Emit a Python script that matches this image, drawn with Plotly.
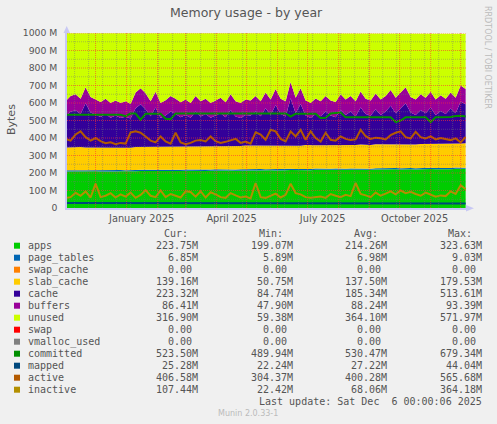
import plotly.graph_objects as go
import pandas as pd

# ---------------- data (5-day samples) ----------------
dates = pd.date_range("2024-11-01", periods=81, freq="5D")

apps = [208, 209, 208, 209, 208, 209, 210, 209, 208, 210,
        209, 210, 209, 208, 210, 211, 210, 211, 212, 211,
        212, 211, 213, 212, 213, 212, 214, 213, 212, 213,
        214, 213, 215, 214, 213, 215, 216, 215, 214, 216,
        215, 216, 215, 214, 216, 217, 216, 215, 217, 216,
        218, 217, 216, 218, 219, 217, 218, 219, 218, 220,
        219, 218, 220, 221, 219, 220, 221, 220, 222, 221,
        220, 222, 221, 223, 222, 221, 223, 222, 224, 223,
        223.75]

page_tables = [7.0, 7.1, 6.9, 7.0, 7.2, 7.0, 6.9, 7.1, 7.0, 7.0,
               6.9, 7.0, 7.1, 7.0, 6.8, 7.0, 7.1, 7.0, 6.9, 7.0,
               7.1, 7.0, 7.0, 6.9, 7.0, 7.2, 7.0, 6.9, 7.0, 7.1,
               7.0, 6.9, 7.0, 7.1, 7.0, 7.0, 6.9, 7.0, 7.1, 7.0,
               7.0, 7.1, 6.9, 7.0, 7.0, 7.1, 7.0, 6.9, 7.0, 7.0,
               7.1, 7.0, 6.9, 7.0, 7.1, 7.0, 7.0, 6.9, 7.0, 7.1,
               7.0, 6.9, 7.0, 7.0, 7.1, 7.0, 6.9, 7.0, 7.0, 6.9,
               7.0, 7.0, 6.9, 7.0, 6.9, 7.0, 6.9, 6.9, 7.0, 6.9,
               6.85]

slab_cache = [130, 131, 130, 132, 131, 130, 131, 132, 131, 130,
              131, 132, 131, 130, 132, 131, 132, 133, 132, 131,
              132, 133, 132, 133, 132, 134, 133, 132, 133, 134,
              133, 134, 133, 132, 134, 133, 134, 135, 134, 133,
              134, 135, 134, 133, 135, 134, 135, 134, 136, 135,
              134, 135, 136, 135, 134, 136, 135, 136, 135, 136,
              136, 135, 137, 136, 135, 137, 136, 137, 136, 137,
              136, 137, 138, 137, 136, 138, 137, 138, 137, 138,
              139.16]

cache = [179, 203, 213, 189, 253, 200, 185, 172, 191, 169,
         181, 166, 175, 166, 221, 244, 215, 173, 224, 166,
         177, 200, 185, 167, 180, 162, 197, 171, 185, 161,
         174, 188, 164, 207, 169, 160, 175, 171, 196, 168,
         214, 174, 233, 183, 165, 269, 183, 238, 168, 157,
         178, 165, 192, 168, 159, 200, 172, 189, 164, 211,
         175, 168, 201, 168, 190, 220, 178, 206, 233, 181,
         169, 194, 175, 207, 167, 189, 170, 202, 173, 240,
         223.32]

buffers = [86, 90, 92, 88, 91, 89, 87, 85, 88, 84,
           87, 85, 88, 84, 90, 92, 91, 86, 90, 85,
           87, 89, 88, 86, 88, 85, 89, 87, 88, 85,
           87, 88, 86, 90, 87, 85, 88, 87, 89, 86,
           90, 88, 91, 88, 87, 93, 89, 91, 87, 85,
           88, 86, 89, 87, 86, 90, 88, 89, 86, 91,
           88, 87, 90, 88, 89, 91, 88, 90, 92, 89,
           88, 90, 89, 91, 88, 90, 88, 91, 89, 92,
           86.41]

unused = [388, 358, 348, 373, 308, 363, 378, 393, 373, 398,
          383, 398, 388, 403, 338, 313, 343, 388, 333, 398,
          383, 358, 373, 393, 378, 398, 358, 388, 373, 398,
          383, 368, 393, 348, 388, 398, 378, 383, 358, 388,
          338, 378, 318, 373, 388, 278, 368, 313, 383, 398,
          373, 388, 358, 383, 393, 348, 378, 358, 388, 333,
          373, 383, 343, 378, 358, 323, 368, 338, 308, 363,
          378, 348, 368, 333, 378, 353, 373, 338, 368, 298,
          316.9]

committed = [533, 533, 532, 533, 534, 533, 533, 532, 533, 533,
             533, 533, 525, 540, 540, 505, 538, 539, 539, 539,
             510, 508, 540, 540, 539, 540, 540, 541, 540, 540,
             539, 540, 540, 541, 540, 540, 539, 540, 540, 540,
             541, 540, 540, 539, 540, 523, 538, 538, 538, 538,
             538, 514, 515, 540, 545, 546, 518, 518, 518, 518,
             518, 518, 518, 518, 518, 518, 491, 500, 518, 518,
             518, 518, 518, 491, 518, 518, 518, 520, 526, 527,
             523.5]

mapped = [28, 28, 27, 28, 29, 28, 27, 28, 28, 27,
          28, 26, 27, 28, 27, 28, 28, 27, 28, 26,
          27, 28, 27, 28, 28, 27, 28, 27, 28, 27,
          28, 27, 28, 27, 28, 27, 28, 28, 27, 28,
          27, 28, 29, 28, 27, 28, 27, 28, 27, 28,
          28, 27, 28, 27, 26, 27, 28, 27, 28, 27,
          27, 28, 27, 28, 27, 26, 27, 28, 27, 26,
          27, 26, 27, 26, 27, 26, 26, 27, 26, 26,
          25.28]

active = [395, 385, 420, 438, 405, 385, 400, 382, 370, 375,
          365, 372, 368, 432, 438, 430, 409, 385, 375, 409,
          380, 368, 430, 375, 365, 372, 385, 388, 380, 409,
          382, 372, 378, 385, 395, 372, 380, 368, 432, 420,
          390, 447, 438, 395, 380, 438, 409, 447, 390, 438,
          400, 380, 430, 390, 385, 409, 395, 388, 392, 447,
          410, 395, 402, 398, 392, 416, 430, 438, 405, 398,
          435, 405, 398, 409, 392, 400, 395, 388, 398, 375,
          406.58]

inactive = [58, 62, 87, 70, 95, 60, 139, 62, 70, 85,
            60, 78, 65, 88, 58, 75, 102, 70, 62, 100,
            62, 80, 70, 60, 96, 92, 65, 96, 60, 90,
            78, 62, 58, 85, 72, 60, 66, 55, 143, 62,
            58, 70, 82, 60, 75, 139, 85, 78, 62, 58,
            60, 65, 58, 80, 70, 62, 75, 68, 143, 80,
            72, 62, 88, 70, 82, 95, 78, 100, 85, 92,
            80, 70, 88, 75, 65, 72, 68, 95, 80, 130,
            107.44]

# axis ticks
x_tick_dates = ["2025-01-16", "2025-04-16", "2025-07-16", "2025-10-16"]
x_tick_labels = ["January 2025", "April 2025", "July 2025", "October 2025"]
y_tick_vals = [0, 100, 200, 300, 400, 500, 600, 700, 800, 900, 1000]
y_tick_labels = ["0", "100 M", "200 M", "300 M", "400 M", "500 M", "600 M",
                 "700 M", "800 M", "900 M", "1000 M"]

# legend table
legend_names = ["apps", "page_tables", "swap_cache", "slab_cache", "cache", "buffers",
                "unused", "swap", "vmalloc_used", "committed", "mapped", "active", "inactive"]
legend_colors = ["#00CC00", "#0066B3", "#FF8000", "#FFCC00", "#330099", "#990099",
                 "#CCFF00", "#FF0000", "#808080", "#008F00", "#00487D", "#B35A00", "#B38F00"]
cur_vals = ["223.75M", "6.85M", "0.00", "139.16M", "223.32M", "86.41M", "316.90M",
            "0.00", "0.00", "523.50M", "25.28M", "406.58M", "107.44M"]
min_vals = ["199.07M", "5.89M", "0.00", "50.75M", "84.74M", "47.90M", "59.38M",
            "0.00", "0.00", "489.94M", "22.24M", "304.37M", "22.42M"]
avg_vals = ["214.26M", "6.98M", "0.00", "137.50M", "185.34M", "88.24M", "364.10M",
            "0.00", "0.00", "530.47M", "27.22M", "400.28M", "68.06M"]
max_vals = ["323.63M", "9.03M", "0.00", "179.53M", "513.61M", "93.39M", "571.97M",
            "0.00", "0.00", "679.34M", "44.04M", "565.68M", "364.18M"]

# ---------------- geometry helpers ----------------
W, H = 497, 424
L, R, T, B = 67, 31, 33, 216
PW = W - L - R
PH = H - T - B


def px(x):
    return (x - L) / PW


def py(y):
    return (H - B - y) / PH


SANS = "DejaVu Sans"
MONO = "DejaVu Sans Mono"
TXT = "#555555"

fig = go.Figure()

stack = [("apps", apps, "#00CC00"), ("page_tables", page_tables, "#0066B3"),
         ("slab_cache", slab_cache, "#FFCC00"), ("cache", cache, "#330099"),
         ("buffers", buffers, "#990099"), ("unused", unused, "#CCFF00")]
for name, vals, col in stack:
    fig.add_trace(go.Scatter(x=dates, y=vals, name=name, stackgroup="mem", mode="lines",
                             line=dict(width=0, color=col), fillcolor=col,
                             hoverinfo="skip"))

lines = [("committed", committed, "#008F00"), ("mapped", mapped, "#00487D"),
         ("active", active, "#B35A00"), ("inactive", inactive, "#B38F00")]
for name, vals, col in lines:
    fig.add_trace(go.Scatter(x=dates, y=vals, name=name, mode="lines",
                             line=dict(width=2, color=col), hoverinfo="skip"))

shapes = []
minor_c = "rgba(120,120,120,0.45)"
major_c = "rgba(255,50,50,0.6)"
for d in pd.date_range("2024-11-10", "2025-12-06", freq="14D"):
    shapes.append(dict(type="line", xref="x", yref="paper", x0=d, x1=d, y0=0, y1=1,
                       line=dict(color=minor_c, width=1, dash="1px,1px"), layer="above"))
for v in range(50, 1000, 100):
    shapes.append(dict(type="line", xref="paper", yref="y", x0=0, x1=1, y0=v, y1=v,
                       line=dict(color=minor_c, width=1, dash="1px,1px"), layer="above"))
for d in pd.date_range("2024-12-01", "2025-12-01", freq="MS"):
    shapes.append(dict(type="line", xref="x", yref="paper", x0=d, x1=d, y0=0, y1=1,
                       line=dict(color=major_c, width=1, dash="1px,1px"), layer="above"))
for v in y_tick_vals[1:]:
    shapes.append(dict(type="line", xref="paper", yref="y", x0=0, x1=1, y0=v, y1=v,
                       line=dict(color=major_c, width=1, dash="1px,1px"), layer="above"))

# axis arrows
arrow_c = "#C8C8F4"
shapes.append(dict(type="path", xref="paper", yref="paper", layer="above",
                   path=f"M {px(63.5)} {py(33)} L {px(66.7)} {py(26)} L {px(70)} {py(33)} Z",
                   fillcolor=arrow_c, line=dict(width=0)))
shapes.append(dict(type="path", xref="paper", yref="paper", layer="above",
                   path=f"M {px(466)} {py(205)} L {px(474)} {py(208.3)} L {px(466)} {py(211.5)} Z",
                   fillcolor=arrow_c, line=dict(width=0)))

annotations = []


def note(text, x, y, size=10, family=MONO, color=TXT, xanchor="left", angle=0):
    annotations.append(dict(text=text, x=px(x), y=py(y), xref="paper", yref="paper",
                            xanchor=xanchor, yanchor="middle", showarrow=False,
                            textangle=angle, borderpad=0,
                            font=dict(family=family, size=size, color=color)))


note("Memory usage - by year", 246, 13, size=12.5, family=SANS, xanchor="center")
note("Bytes", 11, 120, size=11, family=SANS, xanchor="center", angle=-90)
note("RRDTOOL / TOBI OETIKER", 488, 57, size=8, family=SANS, color="#BBBBBB",
     xanchor="center", angle=90)

row0 = 245.7
note("Cur:", 163.3, 233.3)
note("Min:", 258.3, 233.3)
note("Avg:", 352.7, 233.3)
note("Max:", 446.7, 233.3)
col_edges = [199.3, 294.0, 388.3, 483.3]
for i, name in enumerate(legend_names):
    yc = row0 + 12 * i
    shapes.append(dict(type="rect", xref="paper", yref="paper",
                       x0=px(14), x1=px(20), y0=py(yc + 3), y1=py(yc - 3),
                       fillcolor=legend_colors[i], line=dict(width=0)))
    note(name, 26.7, yc)
    for edge, vals in zip(col_edges, [cur_vals, min_vals, avg_vals, max_vals]):
        t = vals[i]
        if not t.endswith("M"):
            t = t + "\u00a0"
        note(t, edge, yc, xanchor="right")

note("Last\u00a0update:\u00a0Sat\u00a0Dec\u00a0\u00a06\u00a000:00:06\u00a02025", 483.3, 401.7,
     xanchor="right")
note("Munin 2.0.33-1", 248, 413.3, size=8, family=SANS, color="#BBBBBB", xanchor="center")

fig.update_layout(
    width=W, height=H,
    margin=dict(l=L, r=R, t=T, b=B, pad=0),
    paper_bgcolor="#F0F0F0", plot_bgcolor="#FFFFFF",
    showlegend=False,
    shapes=shapes, annotations=annotations,
    xaxis=dict(range=["2024-11-02 10:00", "2025-12-06 08:00"], showgrid=False,
               zeroline=False, tickmode="array", tickvals=x_tick_dates,
               ticktext=x_tick_labels, ticks="", showline=True, linecolor=arrow_c,
               linewidth=1.5, tickfont=dict(family=SANS, size=9.8, color=TXT),
               fixedrange=True),
    yaxis=dict(range=[0, 1000], showgrid=False, zeroline=False, tickmode="array",
               tickvals=y_tick_vals, ticktext=y_tick_labels, ticks="",
               ticklabelstandoff=6, showline=True, linecolor=arrow_c, linewidth=1.5,
               tickfont=dict(family=SANS, size=9.3, color=TXT), fixedrange=True),
)

fig.write_html(
    "out.html",
    config={"displayModeBar": False},
    post_script="document.body.style.margin='0';document.body.style.background='#F0F0F0';",
)
